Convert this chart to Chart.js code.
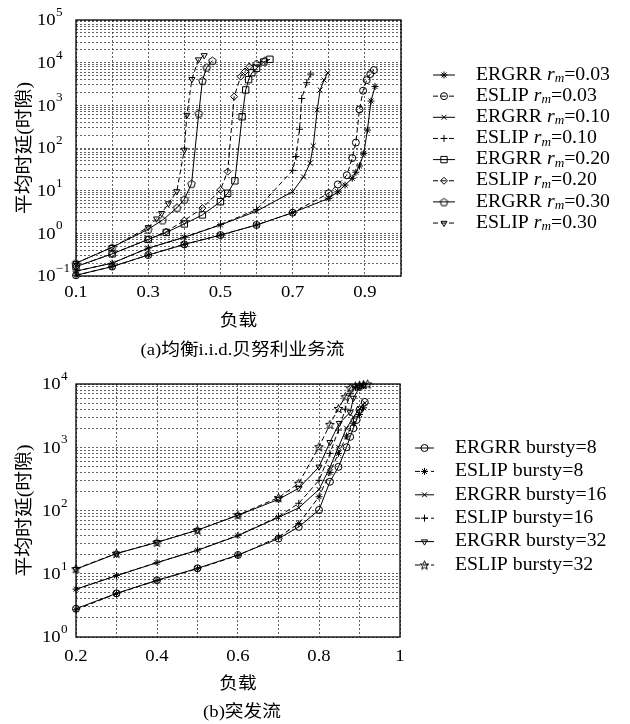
<!DOCTYPE html>
<html>
<head>
<meta charset="utf-8">
<script src="https://cdn.jsdelivr.net/npm/chart.js@4.4.1/dist/chart.umd.min.js"></script>
<style>
  html, body { margin: 0; padding: 0; background: #fff; }
  #wrap { position: relative; width: 630px; height: 724px; }
  canvas { position: absolute; left: 0; }
  #chartA { top: 0; }
  #chartB { top: 362px; }
</style>
</head>
<body>
<div id="wrap">
  <canvas id="chartA" width="630" height="362"></canvas>
  <canvas id="chartB" width="630" height="362"></canvas>
</div>
<script>
// ---- (a) uniform i.i.d. Bernoulli traffic ----
const loadErgrr003 = [0.1, 0.2, 0.3, 0.4, 0.5, 0.6, 0.7, 0.8, 0.825, 0.845, 0.865, 0.875, 0.885, 0.897, 0.907, 0.917, 0.928];
const delayErgrr003 = [0.104, 0.166, 0.31, 0.55, 0.91, 1.57, 3.05, 6.6, 9.4, 13.5, 19.5, 27, 38, 75, 263, 1260, 2750];
const loadEslip003 = [0.1, 0.2, 0.3, 0.4, 0.5, 0.6, 0.7, 0.8, 0.825, 0.85, 0.865, 0.875, 0.885, 0.895, 0.905, 0.915, 0.925];
const delayEslip003 = [0.104, 0.166, 0.31, 0.55, 0.91, 1.57, 3.05, 8.7, 14, 23, 58, 134, 800, 2200, 3900, 5400, 6700];
const loadErgrr010 = [0.1, 0.2, 0.3, 0.4, 0.5, 0.6, 0.7, 0.73, 0.748, 0.757, 0.768, 0.776, 0.787, 0.797];
const delayErgrr010 = [0.13, 0.2, 0.45, 0.81, 1.57, 3.3, 9.5, 21, 44, 112, 780, 2300, 3900, 5800];
const loadEslip010 = [0.1, 0.2, 0.3, 0.4, 0.5, 0.6, 0.7, 0.709, 0.719, 0.725, 0.739, 0.75];
const delayEslip010 = [0.13, 0.2, 0.45, 0.81, 1.6, 3.6, 30, 63, 275, 1450, 3400, 5400];
const loadErgrr020 = [0.1, 0.2, 0.3, 0.35, 0.4, 0.45, 0.5, 0.52, 0.54, 0.56, 0.57, 0.578, 0.587, 0.6, 0.62, 0.637];
const delayErgrr020 = [0.166, 0.33, 0.72, 1.05, 1.66, 2.7, 5.5, 8.7, 17, 540, 2300, 4000, 5800, 7400, 10400, 12000];
const loadEslip020 = [0.1, 0.2, 0.3, 0.35, 0.4, 0.45, 0.5, 0.52, 0.538, 0.556, 0.568, 0.58, 0.6, 0.623];
const delayEslip020 = [0.166, 0.33, 0.72, 1.1, 2.0, 3.9, 10.5, 28, 1600, 4700, 6200, 8100, 9600, 11400];
const loadErgrr030 = [0.1, 0.2, 0.3, 0.34, 0.38, 0.4, 0.42, 0.44, 0.45, 0.462, 0.478];
const delayErgrr030 = [0.2, 0.47, 1.25, 2.05, 4.0, 6.3, 14.6, 650, 3800, 7800, 11200];
const loadEslip030 = [0.1, 0.2, 0.3, 0.323, 0.337, 0.356, 0.379, 0.4, 0.407, 0.421, 0.439, 0.455];
const delayEslip030 = [0.2, 0.47, 1.38, 2.2, 2.95, 5, 9.6, 90, 590, 4100, 11800, 14800];
const rmValues = ['0.03', '0.03', '0.10', '0.10', '0.20', '0.20', '0.30', '0.30'];

const xGridA = [0.1, 0.2, 0.3, 0.4, 0.5, 0.6, 0.7, 0.8, 0.9, 1.0];
const xTickValsA = [0.1, 0.3, 0.5, 0.7, 0.9];
const xTickLabelsA = ['0.1', '0.3', '0.5', '0.7', '0.9'];
const yExpA = [-1, 0, 1, 2, 3, 4, 5];

// ---- (b) bursty traffic ----
const loadErgrr8 = [0.2, 0.3, 0.4, 0.5, 0.6, 0.7, 0.75, 0.8, 0.827, 0.848, 0.868, 0.877, 0.885, 0.893, 0.9, 0.913];
const delayErgrr8 = [2.8, 4.9, 7.9, 12.2, 19.8, 36, 55, 102, 285, 490, 1000, 1460, 2000, 2700, 3900, 5200];
const loadEslip8 = [0.2, 0.3, 0.4, 0.5, 0.6, 0.7, 0.75, 0.8, 0.827, 0.848, 0.868, 0.885, 0.9, 0.91];
const delayEslip8 = [2.7, 4.85, 7.8, 12, 19.5, 38, 62, 165, 400, 800, 1500, 2400, 3300, 4200];
const loadErgrr16 = [0.2, 0.3, 0.4, 0.5, 0.6, 0.7, 0.75, 0.8, 0.827, 0.848, 0.868, 0.885, 0.9, 0.913];
const delayErgrr16 = [5.7, 9.3, 15, 23.5, 40, 78, 110, 215, 480, 1000, 2000, 3000, 4100, 5000];
const loadEslip16 = [0.2, 0.3, 0.4, 0.5, 0.6, 0.7, 0.75, 0.8, 0.827, 0.848, 0.865, 0.877, 0.89, 0.9, 0.91];
const delayEslip16 = [5.7, 9.4, 15, 23.7, 40.5, 80, 130, 300, 800, 1870, 4000, 7000, 8800, 9400, 9700];
const loadErgrr32 = [0.2, 0.3, 0.4, 0.5, 0.6, 0.7, 0.75, 0.8, 0.827, 0.85, 0.877, 0.885, 0.9, 0.91];
const delayErgrr32 = [11.8, 20.8, 31.4, 49, 84, 150, 225, 490, 1200, 2400, 3550, 6000, 8800, 9500];
const loadEslip32 = [0.2, 0.3, 0.4, 0.5, 0.6, 0.7, 0.75, 0.8, 0.827, 0.848, 0.865, 0.877, 0.89, 0.9, 0.91, 0.92];
const delayEslip32 = [12, 21, 31.5, 49, 85, 160, 270, 1020, 2300, 4100, 6300, 8700, 9300, 9600, 9800, 10000];
const burstyValues = ['8', '8', '16', '16', '32', '32'];

const xGridB = [0.2, 0.3, 0.4, 0.5, 0.6, 0.7, 0.8, 0.9, 1.0];
const xTickValsB = [0.2, 0.4, 0.6, 0.8, 1.0];
const xTickLabelsB = ['0.2', '0.4', '0.6', '0.8', '1'];
const yExpB = [0, 1, 2, 3, 4];

const SERIF = '"Liberation Serif", "Noto Sans CJK SC", serif';
const STRETCH = 1.1;

// open marks that Chart.js lacks
function markCanvas(draw) {
  const c = document.createElement('canvas');
  c.width = 11; c.height = 11;
  const g = c.getContext('2d');
  g.strokeStyle = '#000';
  g.lineWidth = 1;
  draw(g);
  return c;
}
const pentagonMark = markCanvas(g => {
  g.beginPath();
  for (let k = 0; k < 5; k++) {
    const t = -Math.PI / 2 + k * 2 * Math.PI / 5;
    g.lineTo(5.5 + 4 * Math.cos(t), 6 + 4 * Math.sin(t));
  }
  g.closePath();
  g.stroke();
});
const starMark = markCanvas(g => {
  g.beginPath();
  for (let k = 0; k < 10; k++) {
    const t = -Math.PI / 2 + k * Math.PI / 5;
    const r = k % 2 ? 2 : 4.6;
    g.lineTo(5.5 + r * Math.cos(t), 6 + r * Math.sin(t));
  }
  g.closePath();
  g.stroke();
});

function series(label, xs, ys, style, dashed, extra) {
  return Object.assign({
    label: label,
    data: xs.map((x, i) => ({ x: x, y: ys[i] })),
    borderColor: '#000',
    borderWidth: 1,
    borderDash: dashed ? [5, 3] : [],
    pointStyle: style,
    pointRadius: 3.5,
    pointBorderColor: '#000',
    pointBackgroundColor: 'rgba(0,0,0,0)',
    pointBorderWidth: 1,
    tension: 0,
    fill: false,
    clip: false
  }, extra || {});
}

function text(ctx, s, x, y, font, align) {
  ctx.save();
  ctx.font = font;
  ctx.textAlign = align || 'left';
  ctx.translate(x, y);
  ctx.scale(STRETCH, 1);
  ctx.fillText(s, 0, 0);
  ctx.restore();
}
function textWidth(ctx, s, font) {
  ctx.font = font;
  return ctx.measureText(s).width * STRETCH;
}

function decor(cfg) {
  return {
    id: 'decor',
    afterDraw(chart) {
      const ctx = chart.ctx, a = chart.chartArea;
      const xs = chart.scales.x, ys = chart.scales.y;
      ctx.save();
      ctx.setLineDash([]);
      ctx.strokeStyle = '#000';
      ctx.lineWidth = 1.3;
      ctx.strokeRect(a.left, a.top, a.right - a.left, a.bottom - a.top);
      ctx.fillStyle = '#000';
      ctx.textBaseline = 'middle';

      cfg.yExp.forEach(e => {
        const py = ys.getPixelForValue(Math.pow(10, e));
        text(ctx, '10', cfg.yLabelX, py + 1, '17px ' + SERIF);
        text(ctx, e < 0 ? '\u2212' + (-e) : String(e), cfg.yLabelX + 19, py - 7, '12px ' + SERIF);
      });
      cfg.xVals.forEach((v, i) => {
        text(ctx, cfg.xLabels[i], xs.getPixelForValue(v), cfg.xLabelY, '17px ' + SERIF, 'center');
      });
      const cx = (a.left + a.right) / 2;
      text(ctx, '负载', cx, cfg.xTitleY, '17px ' + SERIF, 'center');
      text(ctx, cfg.caption, cx + 4, cfg.captionY, '17px ' + SERIF, 'center');
      ctx.save();
      ctx.translate(cfg.yTitleX, (a.top + a.bottom) / 2);
      ctx.rotate(-Math.PI / 2);
      text(ctx, '平均时延(时隙)', 0, 0, '18px ' + SERIF, 'center');
      ctx.restore();

      // legend
      chart.data.datasets.forEach((ds, i) => {
        const ly = cfg.legY + i * cfg.legDy;
        ctx.save();
        ctx.strokeStyle = '#000';
        ctx.lineWidth = 1;
        ctx.setLineDash(ds.borderDash);
        ctx.beginPath();
        ctx.moveTo(cfg.legX0, ly);
        ctx.lineTo(cfg.legX1, ly);
        ctx.stroke();
        ctx.setLineDash([]);
        ctx.fillStyle = 'rgba(0,0,0,0)';
        Chart.helpers.drawPoint(ctx, {
          pointStyle: ds.pointStyle,
          rotation: ds.pointRotation || 0,
          radius: ds.pointRadius,
          borderWidth: 1
        }, (cfg.legX0 + cfg.legX1) / 2, ly);
        ctx.restore();
        cfg.legendText(ctx, ds, i, cfg.legTextX, ly);
      });
      ctx.restore();
    }
  };
}

function baseOptions(xMin, xMax, yMin, yMax, xGrid, padding) {
  return {
    responsive: false,
    animation: false,
    layout: { padding: padding },
    plugins: { legend: { display: false }, tooltip: { enabled: false } },
    scales: {
      x: {
        type: 'linear', min: xMin, max: xMax,
        afterBuildTicks: s => { s.ticks = xGrid.map(v => ({ value: v })); },
        ticks: { display: false },
        grid: { color: '#3a3a3a', lineWidth: 0.8, drawTicks: false },
        border: { display: false, dash: [2, 2] }
      },
      y: {
        type: 'logarithmic', min: yMin, max: yMax,
        afterBuildTicks: s => {
          const t = [];
          const e0 = Math.round(Math.log10(yMin)), e1 = Math.round(Math.log10(yMax));
          for (let e = e0; e < e1; e++) {
            for (let k = 1; k < 10; k++) t.push({ value: k * Math.pow(10, e) });
          }
          t.push({ value: yMax });
          s.ticks = t;
        },
        ticks: { display: false },
        grid: { color: '#3a3a3a', lineWidth: 0.8, drawTicks: false },
        border: { display: false, dash: [2, 2] }
      }
    }
  };
}

// chart (a)
new Chart(document.getElementById('chartA'), {
  type: 'line',
  data: {
    datasets: [
      series('ERGRR', loadErgrr003, delayErgrr003, 'star', false),
      series('ESLIP', loadEslip003, delayEslip003, 'circle', true),
      series('ERGRR', loadErgrr010, delayErgrr010, 'crossRot', false),
      series('ESLIP', loadEslip010, delayEslip010, 'cross', true),
      series('ERGRR', loadErgrr020, delayErgrr020, 'rect', false, { pointRadius: 4.5 }),
      series('ESLIP', loadEslip020, delayEslip020, 'rectRot', true),
      series('ERGRR', loadErgrr030, delayErgrr030, pentagonMark, false),
      series('ESLIP', loadEslip030, delayEslip030, 'triangle', true, { pointRotation: 180 })
    ]
  },
  options: baseOptions(0.1, 1.0, 0.1, 1e5, xGridA, { left: 76, right: 229, top: 20, bottom: 86 }),
  plugins: [decor({
    yExp: yExpA, yLabelX: 37,
    xVals: xTickValsA, xLabels: xTickLabelsA, xLabelY: 293,
    xTitleY: 322, caption: '(a)均衡i.i.d.贝努利业务流', captionY: 351, yTitleX: 25,
    legY: 75, legDy: 21.15, legX0: 433, legX1: 455, legTextX: 476,
    legendText: (ctx, ds, i, x, y) => {
      const f = '18px ' + SERIF;
      text(ctx, ds.label, x, y, f);
      x += textWidth(ctx, ds.label + ' ', f);
      text(ctx, 'r', x, y, 'italic 18px ' + SERIF);
      x += textWidth(ctx, 'r', 'italic 18px ' + SERIF);
      text(ctx, 'm', x, y + 4, 'italic 12px ' + SERIF);
      x += textWidth(ctx, 'm', 'italic 12px ' + SERIF);
      text(ctx, '=' + rmValues[i], x, y, f);
    }
  })]
});

// chart (b)
new Chart(document.getElementById('chartB'), {
  type: 'line',
  data: {
    datasets: [
      series('ERGRR', loadErgrr8, delayErgrr8, 'circle', false),
      series('ESLIP', loadEslip8, delayEslip8, 'star', true),
      series('ERGRR', loadErgrr16, delayErgrr16, 'crossRot', false),
      series('ESLIP', loadEslip16, delayEslip16, 'cross', true),
      series('ERGRR', loadErgrr32, delayErgrr32, 'triangle', false, { pointRotation: 180 }),
      series('ESLIP', loadEslip32, delayEslip32, starMark, true)
    ]
  },
  options: baseOptions(0.2, 1.0, 1, 1e4, xGridB, { left: 76, right: 230, top: 22, bottom: 87 }),
  plugins: [decor({
    yExp: yExpB, yLabelX: 42,
    xVals: xTickValsB, xLabels: xTickLabelsB, xLabelY: 295,
    xTitleY: 323, caption: '(b)突发流', captionY: 351, yTitleX: 25,
    legY: 86, legDy: 23.4, legX0: 415, legX1: 434, legTextX: 455,
    legendText: (ctx, ds, i, x, y) => {
      text(ctx, ds.label + ' bursty=' + burstyValues[i], x, y, '18px ' + SERIF);
    }
  })]
});
</script>
</body>
</html>
